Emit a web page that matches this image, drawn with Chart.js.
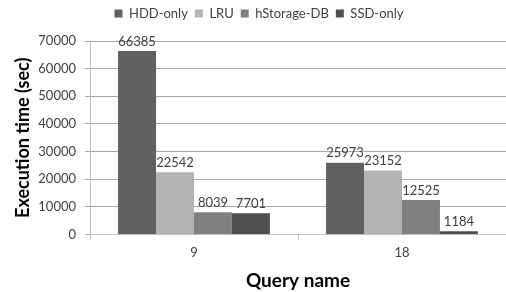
<!DOCTYPE html>
<html>
<head>
<meta charset="utf-8">
<script src="https://cdn.jsdelivr.net/npm/chart.js@4/dist/chart.umd.min.js"></script>
<style>
  html, body { margin: 0; padding: 0; background: #fff; }
  #wrap { width: 506px; height: 292px; }
</style>
</head>
<body>
<div id="wrap"><canvas id="bar-chart" width="506" height="292"></canvas></div>
<script>
"use strict"

// data
const queries = ['9', '18'];
const hddOnly = [66385, 25973];
const lru = [22542, 23152];
const hStorage = [8039, 12525];
const ssdOnly = [7701, 1184];
const yTicks = [0, 10000, 20000, 30000, 40000, 50000, 60000, 70000];

const FONT = 'Lato, "Open Sans", sans-serif';

// value labels above each bar
const valueLabels = {
  id: 'valueLabels',
  afterDatasetsDraw(chart) {
    const ctx = chart.ctx;
    ctx.save();
    ctx.font = '13px ' + FONT;
    ctx.fillStyle = '#404040';
    ctx.textAlign = 'center';
    ctx.textBaseline = 'bottom';
    chart.data.datasets.forEach(function (ds, i) {
      chart.getDatasetMeta(i).data.forEach(function (bar, j) {
        ctx.fillText(String(ds.data[j]), bar.x, bar.y - 3);
      });
    });
    ctx.restore();
  }
};

// extra room under the legend
const legendGap = {
  id: 'legendGap',
  afterInit(chart) {
    const legend = chart.legend;
    const fit = legend.fit;
    legend.fit = function () {
      fit.call(this);
      this.height += 11;
    };
  }
};

const data = {
  labels: queries,
  datasets: [
    { label: 'HDD-only', data: hddOnly, backgroundColor: '#606060' },
    { label: 'LRU', data: lru, backgroundColor: '#b3b3b3' },
    { label: 'hStorage-DB', data: hStorage, backgroundColor: '#808080' },
    { label: 'SSD-only', data: ssdOnly, backgroundColor: '#505050' }
  ]
};

const config = {
  type: 'bar',
  data,
  options: {
    responsive: false,
    animation: false,
    layout: { padding: { left: 12, right: 0, top: 0, bottom: 0 } },
    datasets: {
      bar: { categoryPercentage: 0.73, barPercentage: 1.0, borderWidth: 0 }
    },
    plugins: {
      tooltip: { enabled: false },
      legend: {
        position: 'top',
        labels: {
          font: { family: FONT, size: 13 },
          color: '#404040',
          boxWidth: 8,
          boxHeight: 8,
          padding: 7
        }
      }
    },
    scales: {
      x: {
        afterFit: function (scale) { scale.height = 57.5; },
        grid: {
          display: true,
          drawOnChartArea: false,
          drawTicks: true,
          tickLength: 5,
          color: '#bfbfbf'
        },
        border: { color: '#bfbfbf' },
        ticks: {
          font: { family: FONT, size: 13 },
          color: '#404040',
          padding: 6
        },
        title: {
          display: true,
          text: 'Query name',
          font: { family: FONT, size: 19, weight: 'bold' },
          color: '#000',
          padding: { top: 4, bottom: 0 }
        }
      },
      y: {
        min: 0,
        max: 70000,
        afterFit: function (scale) { scale.width = 78; },
        afterBuildTicks: function (scale) {
          scale.ticks = yTicks.map(function (v) { return { value: v }; });
        },
        grid: {
          color: '#a6a6a6',
          tickLength: 5
        },
        border: { color: '#bfbfbf' },
        ticks: {
          font: { family: FONT, size: 13 },
          color: '#404040',
          padding: 9,
          callback: function (v) { return String(v); }
        },
        title: {
          display: true,
          text: 'Execution time (sec)',
          font: { family: FONT, size: 18, weight: 'bold' },
          color: '#000',
          padding: { top: 0, bottom: 4 }
        }
      }
    }
  },
  plugins: [valueLabels, legendGap]
};

const barChart = new Chart(document.getElementById('bar-chart'), config);
</script>
</body>
</html>
